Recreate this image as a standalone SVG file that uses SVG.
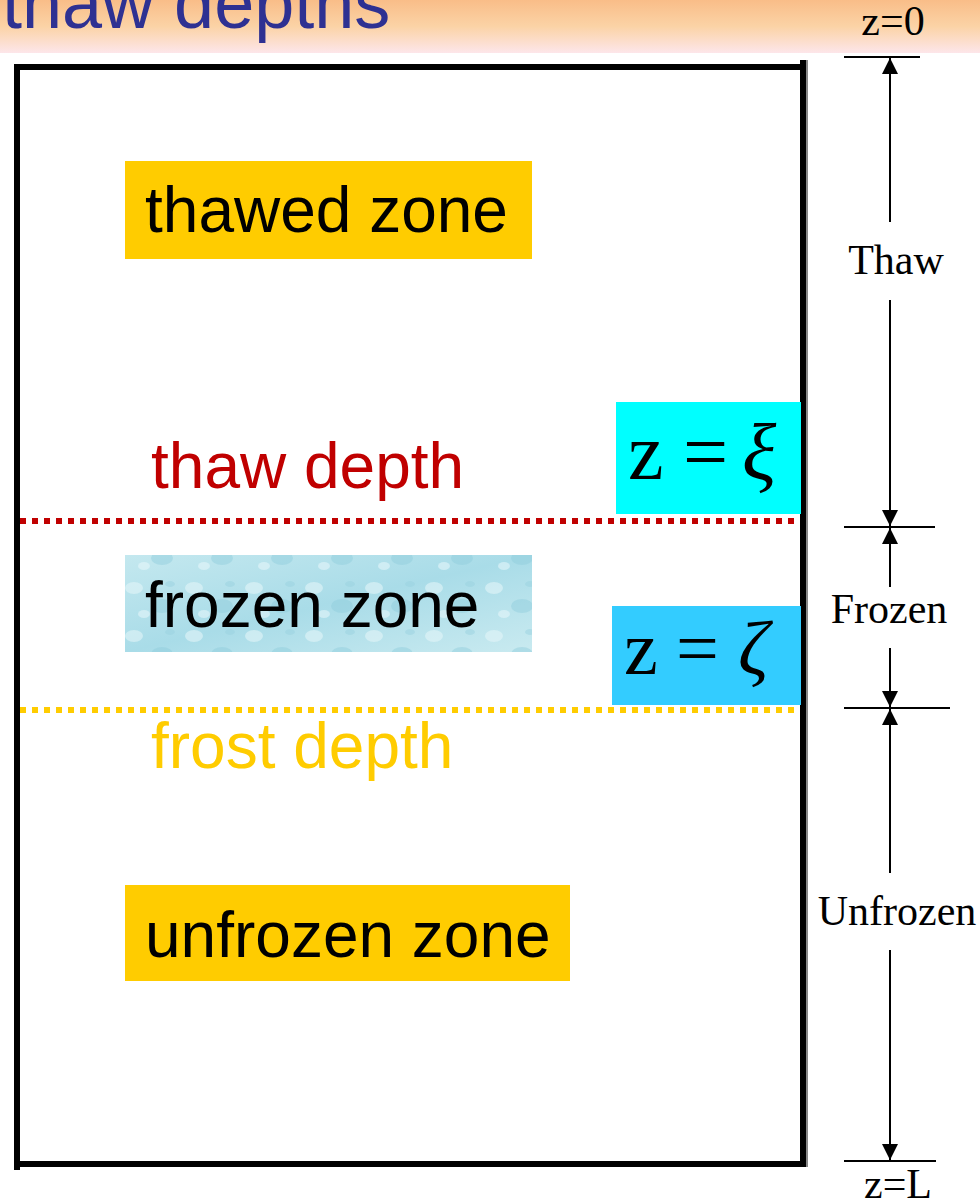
<svg xmlns="http://www.w3.org/2000/svg" width="980" height="1202" viewBox="0 0 980 1202">
  <style>
    .sans { font-family: "Liberation Sans", Arial, sans-serif; }
    .serif { font-family: "Liberation Serif", "Times New Roman", serif; }
    .dim { font-family: "Liberation Serif", "Times New Roman", serif; font-size: 42px; fill: #000; text-anchor: middle; }
    .zone { font-family: "Liberation Sans", Arial, sans-serif; font-size: 64px; fill: #000; }
    .dline { stroke: #000; stroke-width: 2; fill: none; }
    .frame { stroke: #000; stroke-width: 6; fill: none; }
  </style>
  <defs>
    <linearGradient id="band" x1="0" y1="0" x2="0" y2="1">
      <stop offset="0" stop-color="#F9BD88"/>
      <stop offset="0.5" stop-color="#FBD3A6"/>
      <stop offset="1" stop-color="#FDE6EA"/>
    </linearGradient>
    <linearGradient id="ice" x1="0" y1="0" x2="1" y2="1">
      <stop offset="0" stop-color="#C4E8EF"/>
      <stop offset="0.5" stop-color="#A9DCE8"/>
      <stop offset="1" stop-color="#C9EAF0"/>
    </linearGradient>
    <pattern id="drops" width="60" height="48" patternUnits="userSpaceOnUse">
      <ellipse cx="14" cy="12" rx="9" ry="6" fill="#E2F5F8" opacity="0.6"/>
      <ellipse cx="42" cy="30" rx="11" ry="7" fill="#8FCCDD" opacity="0.45"/>
      <ellipse cx="24" cy="38" rx="6" ry="4" fill="#E8F7FA" opacity="0.55"/>
      <ellipse cx="50" cy="8" rx="5" ry="3" fill="#9AD2E0" opacity="0.5"/>
    </pattern>
    <marker id="ah" viewBox="0 0 16 16" refX="16" refY="8" markerWidth="16" markerHeight="16" markerUnits="userSpaceOnUse" orient="auto">
      <path d="M0,0 L16,8 L0,16 Z" fill="#000"/>
    </marker>
  </defs>

  <g id="title">
    <rect x="0" y="0" width="980" height="53" fill="url(#band)"/>
    <text class="sans" x="2" y="28" font-size="72" fill="#2E3192">thaw depths</text>
  </g>

  <g id="frame">
    <line class="frame" x1="17" y1="64" x2="17" y2="1170"/>
    <line class="frame" x1="14" y1="67" x2="803" y2="67"/>
    <line class="frame" x1="17" y1="1164" x2="806" y2="1164"/>
    <line class="frame" x1="803" y1="60" x2="803" y2="1167"/>
    <line x1="807" y1="60" x2="807" y2="1167" stroke="#888" stroke-width="2"/>
  </g>

  <g id="thawed-zone">
    <rect x="125" y="161" width="407" height="98" fill="#FFCC00"/>
    <text class="zone" x="145" y="232">thawed zone</text>
  </g>

  <g id="thaw-depth">
    <text class="sans" x="151" y="488" font-size="64" fill="#C00000">thaw depth</text>
  </g>

  <g id="z-xi">
    <rect x="616" y="402" width="185" height="112" fill="#00FFFF"/>
    <text class="serif" y="479" font-size="80" fill="#000"><tspan x="628">z</tspan><tspan x="683">=</tspan><tspan x="742" font-style="italic">ξ</tspan></text>
  </g>

  <g id="frozen-zone">
    <rect x="125" y="555" width="407" height="97" fill="url(#ice)"/>
    <rect x="125" y="555" width="407" height="97" fill="url(#drops)"/>
    <text class="zone" x="145" y="627">frozen zone</text>
  </g>

  <g id="z-zeta">
    <rect x="612" y="606" width="189" height="99" fill="#33CCFF"/>
    <text class="serif" y="674" font-size="76" fill="#000"><tspan x="624">z</tspan><tspan x="676">=</tspan><tspan x="738" font-style="italic">ζ</tspan></text>
  </g>

  <g id="frost-depth">
    <text class="sans" x="151" y="768" font-size="64" fill="#FFCC00">frost depth</text>
  </g>

  <g id="unfrozen-zone">
    <rect x="125" y="885" width="445" height="96" fill="#FFCC00"/>
    <text class="zone" x="145" y="957">unfrozen zone</text>
  </g>

  <g id="connectors">
    <line x1="20" y1="521" x2="800" y2="521" stroke="#C00000" stroke-width="6" stroke-dasharray="6,6"/>
    <line x1="20" y1="710" x2="800" y2="710" stroke="#FFCC00" stroke-width="6" stroke-dasharray="6,6"/>

    <line class="dline" x1="844" y1="57" x2="920" y2="57"/>
    <line class="dline" x1="844" y1="527" x2="935" y2="527"/>
    <line class="dline" x1="844" y1="708" x2="950" y2="708"/>
    <line class="dline" x1="844" y1="1161" x2="936" y2="1161"/>

    <line class="dline" x1="890" y1="222" x2="890" y2="58" marker-end="url(#ah)"/>
    <line class="dline" x1="890" y1="300" x2="890" y2="526" marker-end="url(#ah)"/>
    <line class="dline" x1="890" y1="587" x2="890" y2="528" marker-end="url(#ah)"/>
    <line class="dline" x1="890" y1="648" x2="890" y2="707" marker-end="url(#ah)"/>
    <line class="dline" x1="890" y1="873" x2="890" y2="709" marker-end="url(#ah)"/>
    <line class="dline" x1="890" y1="950" x2="890" y2="1160" marker-end="url(#ah)"/>
  </g>

  <g id="labels">
    <text class="dim" x="893" y="35">z=0</text>
    <text class="dim" x="896" y="274">Thaw</text>
    <text class="dim" x="889" y="623">Frozen</text>
    <text class="dim" x="897" y="925">Unfrozen</text>
    <text class="dim" x="898" y="1198">z=L</text>
  </g>
</svg>
